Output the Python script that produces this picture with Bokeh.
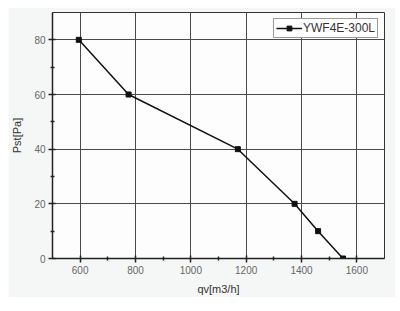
from bokeh.plotting import figure
from bokeh.models import Range1d, FixedTicker, Legend, LegendItem
from bokeh.embed import file_html
from bokeh.resources import INLINE

# Data
flow = [595, 775, 1170, 1375, 1460, 1550]
pressure = [80, 60, 40, 20, 10, 0]
series_name = "YWF4E-300L"
x_ticks = [600, 800, 1000, 1200, 1400, 1600]
y_ticks = [0, 20, 40, 60, 80]

FONT = "Liberation Sans"

p = figure(
    width=384, height=290,
    frame_width=332, frame_height=246,
    x_range=Range1d(500, 1700), y_range=Range1d(0, 90),
    output_backend="svg", toolbar_location=None,
    min_border_left=41, min_border_top=5, min_border_right=11, min_border_bottom=39,
    background_fill_color="#fcfdfc", border_fill_color="#f5f7f6",
)
p.margin = (7, 8, 14, 8)

p.outline_line_color = "#333333"
p.outline_line_width = 1

p.xgrid.grid_line_color = "#4a4a4a"
p.ygrid.grid_line_color = "#4a4a4a"
p.xgrid.grid_line_width = 1
p.ygrid.grid_line_width = 1

p.xaxis.ticker = FixedTicker(ticks=x_ticks, minor_ticks=[700, 900, 1100, 1300, 1500])
p.yaxis.ticker = FixedTicker(ticks=y_ticks, minor_ticks=[10, 30, 50, 70])

for ax in (p.xaxis, p.yaxis):
    ax.axis_line_color = "#222222"
    ax.axis_line_width = 1.5
    ax.major_tick_line_color = "#222222"
    ax.major_tick_line_width = 1.5
    ax.minor_tick_line_color = "#222222"
    ax.minor_tick_line_width = 1.5
    ax.major_tick_in = 3
    ax.major_tick_out = 4
    ax.minor_tick_in = 2
    ax.minor_tick_out = 2
    ax.major_label_text_font = FONT
    ax.major_label_text_font_size = "10px"
    ax.major_label_text_color = "#666666"
    ax.axis_label_text_font = FONT
    ax.axis_label_text_font_size = "11px"
    ax.axis_label_text_font_style = "normal"
    ax.axis_label_text_color = "#333333"

p.xaxis.axis_label = "qv[m3/h]"
p.yaxis.axis_label = "Pst[Pa]"
p.xaxis.major_label_standoff = 3
p.xaxis.axis_label_standoff = 6
p.yaxis.major_label_standoff = 3
p.yaxis.axis_label_standoff = 8

line = p.line(flow, pressure, line_color="#111111", line_width=1.5)
pts = p.scatter(flow, pressure, marker="square", size=5, fill_color="#111111", line_color="#111111")

legend = Legend(
    items=[LegendItem(label=series_name, renderers=[line, pts])],
    location="top_right",
    label_text_font=FONT, label_text_font_size="12px", label_text_color="#333333",
    glyph_width=26, glyph_height=12, label_standoff=1,
    padding=2, spacing=0, margin=6,
    border_line_color="#333333", border_line_width=1,
    background_fill_color="#ffffff", background_fill_alpha=1,
    label_height=12,
)
p.add_layout(legend)

open("out.html", "w").write(file_html(p, INLINE))
